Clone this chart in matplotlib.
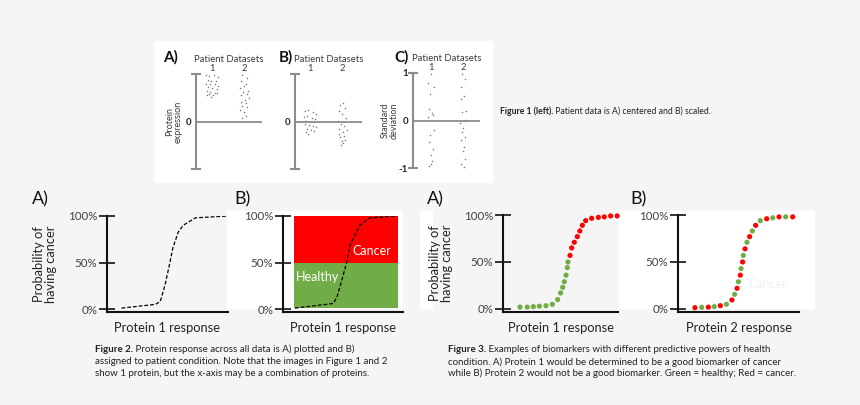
import matplotlib
matplotlib.use("Agg")
import matplotlib.pyplot as plt
from matplotlib.patches import Rectangle

plt.rcParams['font.family'] = ['Lato', 'DejaVu Sans']

# ---- Figure 1: patient datasets (centered / scaled / standardised) ----
datasets = [1, 2]
dataset_labels = ['1', '2']

f1a_x1 = [0.82, 0.90, 1.05, 1.18, 0.86, 0.97, 1.12, 0.80, 0.93, 1.08, 1.20, 0.88, 1.00, 1.15, 0.84, 0.95, 1.10, 0.90, 1.03, 1.17, 0.83, 0.98]
f1a_y1 = [0.98, 0.95, 0.97, 0.93, 0.88, 0.86, 0.85, 0.80, 0.78, 0.80, 0.75, 0.72, 0.70, 0.68, 0.65, 0.63, 0.60, 0.57, 0.55, 0.60, 0.55, 0.52]
f1a_x2 = [1.95, 2.10, 1.90, 2.05, 2.00, 1.88, 2.12, 1.97, 2.08, 1.92, 2.15, 2.02, 1.90, 2.06, 1.95, 2.10, 1.87, 2.00, 2.05, 1.93]
f1a_y2 = [0.98, 0.92, 0.85, 0.80, 0.75, 0.70, 0.65, 0.62, 0.58, 0.55, 0.50, 0.45, 0.42, 0.38, 0.33, 0.30, 0.25, 0.20, 0.12, 0.07]

f1b_x1 = [0.85, 0.95, 1.10, 1.20, 0.80, 0.92, 1.05, 1.15, 0.88, 1.00, 1.12, 0.83, 0.97, 1.08, 1.18, 0.90, 1.02, 0.86, 1.13, 0.95]
f1b_y1 = [0.22, 0.25, 0.20, 0.15, 0.10, 0.12, 0.08, 0.05, 0.02, -0.02, 0.00, -0.05, -0.08, -0.10, -0.12, -0.15, -0.18, -0.22, -0.20, -0.26]
f1b_x2 = [2.05, 1.95, 2.10, 1.90, 2.00, 2.12, 1.88, 2.05, 1.97, 2.08, 1.92, 2.15, 2.02, 1.90, 2.06, 1.95, 2.10, 2.00, 2.04, 1.98]
f1b_y2 = [0.40, 0.35, 0.28, 0.22, 0.15, 0.08, 0.02, -0.02, -0.06, -0.10, -0.15, -0.18, -0.22, -0.26, -0.30, -0.33, -0.38, -0.42, -0.46, -0.50]

f1c_x1 = [1.00, 0.92, 1.08, 0.98, 0.95, 1.05, 0.90, 1.02, 1.10, 0.97, 0.93, 1.06, 0.99, 1.03, 0.94, 1.00]
f1c_y1 = [0.97, 0.80, 0.70, 0.55, 0.25, 0.12, 0.08, 0.15, -0.20, -0.30, -0.45, -0.60, -0.72, -0.85, -0.95, -0.92]
f1c_x2 = [1.98, 2.05, 1.93, 2.02, 1.95, 2.08, 1.97, 2.04, 1.92, 2.10, 2.00, 1.96, 2.06, 1.94, 2.03, 1.99, 2.07, 1.95, 2.02]
f1c_y2 = [0.98, 0.88, 0.70, 0.52, 0.45, 0.20, 0.18, 0.00, -0.05, 0.02, -0.15, -0.25, -0.35, -0.42, -0.55, -0.65, -0.80, -0.92, -0.97]

# ---- Figure 2: protein response curves ----
f2a_x = [0.12, 0.40, 0.44, 0.48, 0.52, 0.545, 0.59, 0.63, 0.73, 1.00]
f2a_y = [1, 5, 8, 26, 50, 66, 83, 90, 98, 100]
f2b_x = [0.10, 0.42, 0.45, 0.49, 0.53, 0.56, 0.64, 0.725, 0.95]
f2b_y = [1, 6, 13, 31, 50, 69, 90, 98, 100]
zone_names = ['Healthy', 'Cancer']
zone_lo = [1, 50]
zone_hi = [50, 101]

# ---- Figure 3: biomarker points (0 = healthy, 1 = cancer) ----
f3a_x = [0.148, 0.211, 0.264, 0.316, 0.374, 0.429, 0.475, 0.501, 0.519, 0.533, 0.548, 0.559, 0.565,
         0.583, 0.597, 0.620, 0.646, 0.668, 0.690, 0.719, 0.771, 0.829, 0.881, 0.936, 0.993]
f3a_y = [2, 2, 2.5, 3, 3.5, 5, 10, 17, 23, 29, 36, 44, 50,
         57, 65, 71, 77, 83, 89, 94, 96.5, 97.5, 98, 99, 99]
f3a_state = [0] * 13 + [1] * 12

f3b_x = [0.140, 0.196, 0.251, 0.300, 0.350, 0.400, 0.446, 0.468, 0.488, 0.499, 0.515, 0.521, 0.534,
         0.540, 0.554, 0.570, 0.592, 0.614, 0.642, 0.680, 0.733, 0.783, 0.835, 0.890, 0.948]
f3b_y = [1.4, 1.8, 2, 2.5, 3.5, 5, 9.6, 15.6, 22, 29, 36, 43, 50,
         57, 64, 71, 77, 83, 89, 94, 96, 97, 98, 98, 98]
f3b_state = [1, 0, 1, 0, 1, 0, 1, 0, 1, 0, 1, 0, 1,
             0, 1, 0, 1, 0, 1, 0, 1, 0, 1, 0, 1]

pct_ticks = [0, 50, 100]
pct_labels = ['0%', '50%', '100%']

W, H = 860, 405
RED, GREEN = '#ff0000', '#70ad47'
GREY = '#8c8c8c'
TXT = '#3a3a3a'


def box(x0, y0, x1, y1):
    # pixel box -> figure fraction
    return [x0 / W, 1 - y1 / H, (x1 - x0) / W, (y1 - y0) / H]


fig = plt.figure(figsize=(W / 100, H / 100), dpi=100, facecolor='#f5f5f5')

# background layer in pixel coordinates (white pasted areas + captions)
bg = fig.add_axes([0, 0, 1, 1], zorder=-1)
bg.set_xlim(0, W)
bg.set_ylim(H, 0)
bg.axis('off')
for (x0, y0, x1, y1) in [(154, 41, 493, 183), (227, 211, 403, 309), (420, 211, 433, 309), (618, 211, 815, 309)]:
    bg.add_patch(Rectangle((x0, y0), x1 - x0, y1 - y0, color='white', lw=0))


def fig1_panel(rect, xlim, x1, y1, x2, y2, ylabel, ylabels, ypad):
    ax = fig.add_axes(box(*rect))
    ax.set_facecolor('none')
    ax.scatter(x1, y1, s=1.2, color='#777777', lw=0)
    ax.scatter(x2, y2, s=1.2, color='#777777', lw=0)
    ax.axhline(0, color=GREY, lw=1.3)
    ax.set_xlim(*xlim)
    ax.set_ylim(-1, 1)
    for s in ['right', 'bottom', 'top']:
        ax.spines[s].set_visible(False)
    ax.spines['left'].set_color(GREY)
    ax.spines['left'].set_linewidth(1.5)
    ax.set_yticks([-1, 0, 1], ylabels)
    ax.tick_params(axis='y', direction='inout', length=7, width=1.5, color=GREY,
                   labelsize=7, pad=0, labelcolor='#222222')
    for lab in ax.get_yticklabels():
        lab.set_fontweight('bold')
    ax.yaxis.get_major_ticks()[1].tick1line.set_visible(False)
    ax.xaxis.tick_top()
    ax.xaxis.set_label_position('top')
    ax.set_xticks(datasets, dataset_labels)
    ax.tick_params(axis='x', length=0, pad=1, labelsize=6.8, labelcolor=TXT)
    ax.set_xlabel('Patient Datasets', fontsize=6.8, color=TXT, labelpad=1.5)
    if ylabel:
        ax.set_ylabel(ylabel, fontsize=6.5, color=TXT, linespacing=1.0, labelpad=ypad)
    return ax


fig1_panel((196, 74, 262, 169), (0.5, 2.56), f1a_x1, f1a_y1, f1a_x2, f1a_y2,
           'Protein\nexpression', ['', '0', ''], 2)
fig1_panel((295, 74, 362, 169), (0.53, 2.63), f1b_x1, f1b_y1, f1b_x2, f1b_y2,
           None, ['', '0', ''], 2)
fig1_panel((413, 73, 480, 168), (0.44, 2.53), f1c_x1, f1c_y1, f1c_x2, f1c_y2,
           'Standard\ndeviation', ['-1', '0', '1'], 0)

for x, lab in [(171, 'A)'), (286, 'B)'), (402, 'C)')]:
    bg.text(x, 57, lab, fontsize=11, fontweight='bold', color='#111111', ha='center', va='center')


def prob_axes(rect, xlabel, ylabel):
    ax = fig.add_axes(box(*rect))
    ax.set_facecolor('none')
    ax.set_xlim(0, 1)
    ax.set_ylim(-3.2, 100)
    ax.spines['right'].set_visible(False)
    ax.spines['top'].set_visible(False)
    for s in ['left', 'bottom']:
        ax.spines[s].set_linewidth(1.5)
        ax.spines[s].set_color('#111111')
    ax.set_xticks([])
    ax.set_yticks(pct_ticks, pct_labels)
    ax.tick_params(axis='y', direction='inout', length=12, width=1.2, color='#111111',
                   labelsize=8.3, labelcolor='#404040', pad=1)
    ax.set_xlabel(xlabel, fontsize=9.3, color='#222222', labelpad=7)
    if ylabel:
        ax.set_ylabel(ylabel, fontsize=9.3, color='#222222', linespacing=1.0, labelpad=8)
    return ax


# Figure 2 A
ax = prob_axes((107, 216, 228, 312), 'Protein 1 response', 'Probability of\nhaving cancer')
ax.plot(f2a_x, f2a_y, color='black', lw=0.9, ls=(0, (3, 1.6)))

# Figure 2 B
ax = prob_axes((283, 216, 403, 312), 'Protein 1 response', None)
zone_colors = [GREEN, RED]
for name, lo, hi, c in zip(zone_names, zone_lo, zone_hi, zone_colors):
    ax.axhspan(lo, hi, xmin=0.09, xmax=0.96, color=c, lw=0, zorder=1)
ax.text(0.74, 62, 'Cancer', color='white', fontsize=9, ha='center', va='center', zorder=3)
ax.text(0.29, 34, 'Healthy', color='white', fontsize=9, ha='center', va='center', zorder=3)
ax.plot(f2b_x, f2b_y, color='black', lw=0.9, ls=(0, (3, 1.6)), zorder=4)

# Figure 3 A
ax = prob_axes((503, 215, 618, 312), 'Protein 1 response', 'Probability of\nhaving cancer')
ax.scatter(f3a_x, f3a_y, s=14, lw=0, c=[RED if s else GREEN for s in f3a_state], clip_on=False)

# Figure 3 B
ax = prob_axes((678, 215, 799, 312), 'Protein 2 response', None)
ax.scatter(f3b_x, f3b_y, s=14, lw=0, c=[RED if s else GREEN for s in f3b_state], clip_on=False)
ax.text(0.74, 27, 'Cancer', color='#f0f0f0', fontsize=9, ha='center', va='center')

for x, lab in [(40, 'A)'), (242, 'B)'), (435, 'A)'), (639, 'B)')]:
    bg.text(x, 199, lab, fontsize=13, color='#111111', ha='center', va='center')


def caption(x, ys, head, lines, size):
    t = bg.text(x, ys[0], head, fontsize=size, fontweight='bold', color='#222222',
                ha='left', va='center')
    bg.annotate(lines[0], xy=(1, 0), xycoords=t, ha='left', va='bottom',
                fontsize=size, color='#222222')
    for y, line in zip(ys[1:], lines[1:]):
        bg.text(x, y, line, fontsize=size, color='#222222', ha='left', va='center')


caption(500, [111], 'Figure 1 (left).', [' Patient data is A) centered and B) scaled.'], 6.2)
caption(95, [350, 362, 373], 'Figure 2.',
        [' Protein response across all data is A) plotted and B)',
         'assigned to patient condition. Note that the images in Figure 1 and 2',
         'show 1 protein, but the x-axis may be a combination of proteins.'], 7.0)
caption(448, [349, 362, 373], 'Figure 3.',
        [' Examples of biomarkers with different predictive powers of health',
         'condition. A) Protein 1 would be determined to be a good biomarker of cancer',
         'while B) Protein 2 would not be a good biomarker. Green = healthy; Red = cancer.'], 7.0)

fig.savefig('out.png', dpi=100, facecolor=fig.get_facecolor())
